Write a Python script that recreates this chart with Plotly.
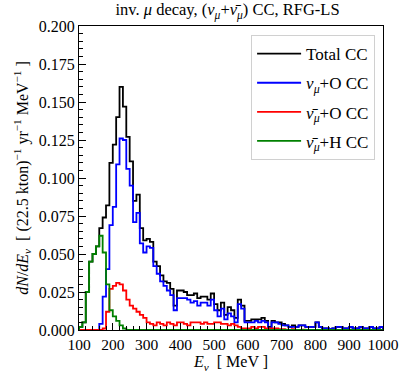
import plotly.graph_objects as go

# Energy binning (MeV)
E_MIN = 100
BIN_W = 10
N_BINS = 90

total_cc = [
    0.002, 0.005, 0.025, 0.045, 0.050, 0.055, 0.067, 0.074, 0.082, 0.110,
    0.122, 0.140, 0.160, 0.147, 0.127, 0.111, 0.085, 0.089, 0.067, 0.059,
    0.060, 0.058, 0.045, 0.042, 0.036, 0.032, 0.031, 0.027, 0.016, 0.026,
    0.026, 0.025, 0.023, 0.023, 0.024, 0.021, 0.022, 0.022, 0.020, 0.024,
    0.017, 0.013, 0.018, 0.010, 0.015, 0.013, 0.008, 0.020, 0.016, 0.006,
    0.006, 0.007, 0.007, 0.007, 0.008, 0.006, 0.002, 0.006, 0.005, 0.005,
    0.004, 0.003, 0.002, 0.003, 0.002, 0.003, 0.003, 0.002, 0.002, 0.002,
    0.005, 0.002, 0.001, 0.001, 0.0005, 0.001, 0.002, 0.002, 0.001, 0.001,
    0.002, 0.001, 0.001, 0.002, 0.001, 0.001, 0.002, 0.001, 0.001, 0.002,
]

numu_O = [
    0.0, 0.0, 0.0, 0.0, 0.0, 0.0, 0.004, 0.022, 0.040, 0.069,
    0.081, 0.109, 0.126, 0.125, 0.106, 0.095, 0.071, 0.077, 0.057, 0.051,
    0.055, 0.054, 0.042, 0.037, 0.032, 0.029, 0.026, 0.023, 0.013, 0.021,
    0.021, 0.021, 0.020, 0.018, 0.019, 0.016, 0.018, 0.018, 0.016, 0.020,
    0.013, 0.009, 0.014, 0.007, 0.011, 0.009, 0.005, 0.017, 0.014, 0.005,
    0.005, 0.005, 0.006, 0.005, 0.006, 0.005, 0.001, 0.005, 0.005, 0.004,
    0.003, 0.003, 0.002, 0.002, 0.002, 0.003, 0.003, 0.002, 0.002, 0.002,
    0.005, 0.002, 0.001, 0.001, 0.0005, 0.001, 0.002, 0.002, 0.001, 0.001,
    0.002, 0.001, 0.001, 0.002, 0.001, 0.001, 0.002, 0.001, 0.001, 0.002,
]

numubar_O = [
    0.0, 0.0, 0.0, 0.0, 0.0, 0.0, 0.0, 0.001, 0.012, 0.027,
    0.029, 0.031, 0.030, 0.026, 0.020, 0.016, 0.014, 0.012, 0.010, 0.008,
    0.005, 0.004, 0.003, 0.005, 0.004, 0.003, 0.005, 0.004, 0.003, 0.005,
    0.005, 0.004, 0.003, 0.005, 0.005, 0.005, 0.004, 0.005, 0.004, 0.004,
    0.005, 0.005, 0.004, 0.004, 0.003, 0.004, 0.003, 0.002, 0.001, 0.001,
    0.001, 0.002, 0.001, 0.002, 0.002, 0.001, 0.001, 0.001, 0.001, 0.0005,
    0.0005, 0.0003, 0.0, 0.0005, 0.0, 0.0, 0.0003, 0.0, 0.0, 0.0,
    0.0, 0.0, 0.0, 0.0, 0.0, 0.0, 0.0, 0.0, 0.0, 0.0,
    0.0, 0.0, 0.0, 0.0, 0.0, 0.0, 0.0, 0.0, 0.0, 0.0,
]

numubar_H = [
    0.002, 0.005, 0.025, 0.045, 0.050, 0.055, 0.062, 0.051, 0.030, 0.013,
    0.009, 0.006, 0.003, 0.001, 0.0, 0.0, 0.0, 0.0, 0.0, 0.0,
] + [0.0] * 70

series_names = [
    "Total CC",
    "<i>ν</i><sub><i>μ</i></sub>+O CC",
    "<i>ν̄</i><sub><i>μ</i></sub>+O CC",
    "<i>ν̄</i><sub><i>μ</i></sub>+H CC",
]
series_colors = ["black", "#0000ff", "#ff0000", "#008000"]
series_values = [total_cc, numu_O, numubar_O, numubar_H]

edges = [E_MIN + BIN_W * i for i in range(N_BINS + 1)]

FONT = "Liberation Serif, Times New Roman, serif"

fig = go.Figure()
for i, (name, col, vals) in enumerate(zip(series_names, series_colors, series_values)):
    xs = [edges[0]] + edges + [edges[-1]]
    ys = [0.0] + list(vals) + [vals[-1], 0.0]
    fig.add_trace(go.Scatter(
        x=xs, y=ys, mode="lines", name=name, legendgroup="g%d" % i,
        line=dict(color=col, width=1.8, shape="hv"),
    ))

fig.update_layout(
    template="none",
    width=407, height=380,
    margin=dict(l=79, r=24, t=26, b=50, autoexpand=False),
    paper_bgcolor="white", plot_bgcolor="white",
    font=dict(family=FONT, size=16, color="black"),
    title=dict(
        text="inv. <i>μ</i> decay, (<i>ν</i><sub><i>μ</i></sub>+<i>ν̄</i><sub><i>μ</i></sub>) CC, RFG-LS",
        x=0.559, xanchor="center", y=0.99, yanchor="top",
        font=dict(family=FONT, size=16.5),
    ),
    showlegend=True,
    legend=dict(
        x=0.974, xanchor="right", y=0.97, yanchor="top",
        bgcolor="white", bordercolor="#d0d0d0", borderwidth=1,
        font=dict(family=FONT, size=17),
        itemwidth=44, tracegroupgap=4,
    ),
)

fig.update_xaxes(
    automargin=False,
    range=[100, 1000], dtick=100, tick0=100,
    showgrid=False, zeroline=False,
    showline=True, linecolor="black", linewidth=1.2, mirror=True,
    ticks="inside", ticklen=7, tickwidth=1, tickcolor="black",
    minor=dict(dtick=20, ticks="inside", ticklen=4, tickwidth=1, tickcolor="black", showgrid=False),
    tickfont=dict(family=FONT, size=15.5),
    title=dict(text="<i>E</i><sub><i>ν</i></sub>  [ MeV ]", font=dict(family=FONT, size=16), standoff=4),
)
fig.update_yaxes(
    automargin=False,
    range=[0, 0.2], dtick=0.025, tick0=0, tickformat=".3f",
    showgrid=False, zeroline=False,
    showline=True, linecolor="black", linewidth=1.2, mirror=True,
    ticks="inside", ticklen=7, tickwidth=1, tickcolor="black",
    minor=dict(dtick=0.005, ticks="inside", ticklen=4, tickwidth=1, tickcolor="black", showgrid=False),
    tickfont=dict(family=FONT, size=16),
    title=dict(
        text="<i>dN</i>/<i>dE</i><sub><i>ν</i></sub>  [ (22.5 kton)<sup>−1</sup> yr<sup>−1</sup> MeV<sup>−1</sup> ]",
        font=dict(family=FONT, size=16), standoff=6,
    ),
)

fig.write_html(
    "out.html",
    config={"displayModeBar": False},
    post_script="document.body.style.margin='0';document.body.style.overflow='hidden';",
)
